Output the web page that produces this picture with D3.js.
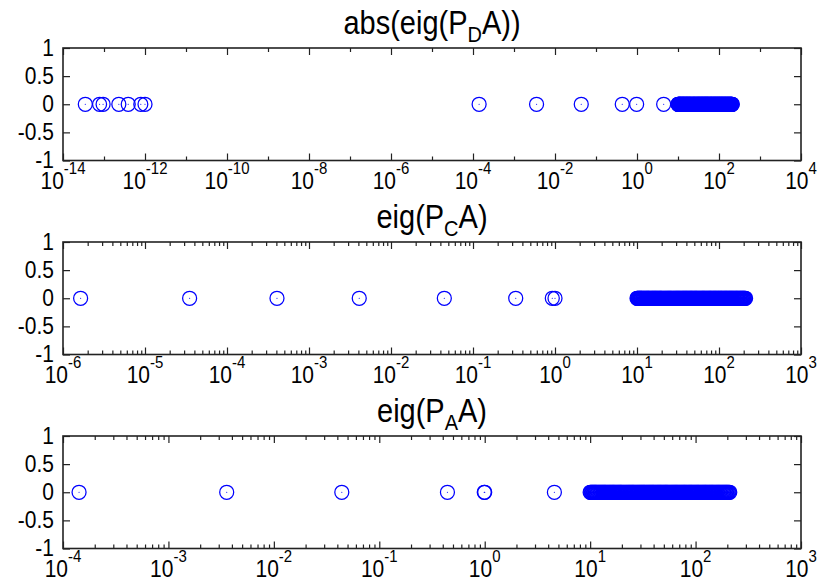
<!DOCTYPE html>
<html>
<head>
<meta charset="utf-8">
<script src="https://cdn.jsdelivr.net/npm/d3@7"></script>
<style>
  html, body { margin: 0; padding: 0; background: #fff; }
  svg { display: block; }
  text { font-family: "Liberation Sans", Arial, Helvetica, sans-serif; fill: #000; }
</style>
</head>
<body>
<svg id="chart" width="830" height="581"></svg>
<script>
// ---------------- data ----------------
// dense bulk of the spectrum (same in all three panels)
const bulk = [10.0, 10.15, 10.3, 10.45, 10.6, 10.75, 10.9, 11.05, 11.2, 11.35, 11.5,
  11.7, 11.9, 12.1, 12.3, 12.5, 12.7, 12.9, 13.1, 13.3, 13.5, 13.7, 13.9, 14.1,
  14.35, 14.6, 14.85, 15.1, 15.35, 15.6, 15.85, 16.1, 16.35, 16.6, 16.85, 17.1,
  17.4, 17.7, 18.0, 18.3, 18.6, 18.9, 19.2, 19.5, 19.8, 20.1,
  20.5, 20.9, 21.3, 21.7, 22.1, 22.5, 22.9, 23.3, 23.7, 24.1, 24.5, 24.9, 25.3, 25.7, 26.1,
  26.6, 27.1, 27.6, 28.1, 28.6, 29.1, 29.6, 30.1, 30.6, 31.1, 31.6, 32.1, 32.6, 33.1,
  33.7, 34.3, 34.9, 35.5, 36.1, 36.7, 37.3, 37.9, 38.5, 39.1, 39.7, 40.3,
  41.0, 41.7, 42.4, 43.1, 43.8, 44.5, 45.2, 45.9, 46.6, 47.3,
  48.1, 48.9, 49.7, 50.5, 51.3, 52.1, 52.9, 53.7, 54.5,
  55.5, 56.5, 57.5, 58.5, 59.5, 60.5, 61.5, 62.5, 63.5, 64.5, 65.5, 66.5, 67.5,
  68.7, 69.9, 71.1, 72.3, 73.5, 74.7, 75.9, 77.1, 78.3, 79.5, 80.7,
  82.1, 83.5, 84.9, 86.3, 87.7, 89.1, 90.5, 91.9, 93.3,
  94.9, 96.5, 98.1, 99.7, 101.3, 102.9, 104.5, 106.1, 107.7,
  109.6, 111.5, 113.4, 115.3, 117.2, 119.1, 121.0, 122.9, 124.8, 126.7,
  128.9, 131.1, 133.3, 135.5, 137.7, 139.9, 142.1, 144.3, 146.5,
  149.1, 151.7, 154.3, 156.9, 159.5, 162.1, 164.7, 167.3, 169.9,
  172.9, 175.9, 178.9, 181.9, 184.9, 187.9, 190.9, 193.9, 196.9, 199.9,
  203.5, 207.0, 211.0];
// small (outlying) eigenvalues per preconditioner
const smallPD = [3.5e-14, 7.8e-14, 9.5e-14, 2.3e-13, 3.9e-13, 7.9e-13, 1.0e-12, 1.41e-4, 3.55e-3, 0.0437, 0.437, 0.98, 4.47];
const smallPC = [1.64e-6, 3.5e-5, 4.07e-4, 4.1e-3, 0.0447, 0.332, 0.927, 1.0];
const smallPA = [1.42e-4, 3.57e-3, 0.0441, 0.443, 0.99, 1.0, 4.58];

const titleMain = ["abs(eig(P", "eig(P", "eig(P"];
const titleSub = ["D", "C", "A"];
const titleTail = ["A))", "A)", "A)"];
const xExpMin = [-14, -6, -4];
const xExpMax = [4, 3, 3];
const xLabelStep = [2, 1, 1];
const yTicks = [-1, -0.5, 0, 0.5, 1];
const yTickLabels = ["-1", "-0.5", "0", "0.5", "1"];

// ---------------- drawing ----------------
const svg = d3.select("#chart");
const L = 63, R = 801, PH = 112.5;
const tops = [48, 242, 436];
const series = [smallPD.concat(bulk), smallPC.concat(bulk), smallPA.concat(bulk)];
const axisColor = "#222";
const VS = 1.12; // vertical stretch of the (narrow) font

function stretchedText(parent, x, y, anchor, size) {
  return parent.append("g").attr("transform", `translate(${x},${y}) scale(1,${VS})`)
    .append("text").attr("text-anchor", anchor).style("font-size", size + "px");
}

for (let p = 0; p < 3; p++) {
  const top = tops[p], bot = top + PH;
  const x = d3.scaleLog().domain([Math.pow(10, xExpMin[p]), Math.pow(10, xExpMax[p])]).range([L, R]);
  const y = d3.scaleLinear().domain([-1, 1]).range([bot, top]);
  const g = svg.append("g");

  const majors = [], minors = [];
  for (let e = xExpMin[p]; e <= xExpMax[p]; e++) {
    if ((e - xExpMin[p]) % xLabelStep[p] === 0) majors.push(Math.pow(10, e));
    else minors.push(Math.pow(10, e));
    if (xLabelStep[p] === 1 && e < xExpMax[p]) {
      for (let k = 2; k <= 9; k++) minors.push(k * Math.pow(10, e));
    }
  }

  const tickStyle = sel => { sel.select(".domain").remove(); sel.selectAll("line").attr("stroke", axisColor).attr("stroke-width", 1.2); sel.selectAll("text").remove(); };
  g.append("g").attr("transform", `translate(0,${bot})`).call(d3.axisBottom(x).tickValues(majors).tickSize(-7).tickFormat("")).call(tickStyle);
  g.append("g").attr("transform", `translate(0,${bot})`).call(d3.axisBottom(x).tickValues(minors).tickSize(-4).tickFormat("")).call(tickStyle);
  g.append("g").attr("transform", `translate(0,${top})`).call(d3.axisTop(x).tickValues(majors).tickSize(-7).tickFormat("")).call(tickStyle);
  g.append("g").attr("transform", `translate(0,${top})`).call(d3.axisTop(x).tickValues(minors).tickSize(-4).tickFormat("")).call(tickStyle);
  g.append("g").attr("transform", `translate(${L},0)`).call(d3.axisLeft(y).tickValues(yTicks).tickSize(-7).tickFormat("")).call(tickStyle);
  g.append("g").attr("transform", `translate(${R},0)`).call(d3.axisRight(y).tickValues(yTicks).tickSize(-7).tickFormat("")).call(tickStyle);

  g.append("rect").attr("x", L).attr("y", top).attr("width", R - L).attr("height", PH)
    .attr("fill", "none").attr("stroke", axisColor).attr("stroke-width", 1.6);

  yTicks.forEach((v, i) => {
    stretchedText(g, 54, y(v) + 7.5, "end", 21).text(yTickLabels[i]);
  });

  majors.forEach(v => {
    const e = Math.round(Math.log10(v));
    const t = stretchedText(g, x(v), bot + 28.5, "middle", 21);
    t.append("tspan").text("10");
    t.append("tspan").attr("dy", -13).style("font-size", "15px").text(String(e));
  });

  const tt = stretchedText(g, (L + R) / 2, top - 14, "middle", 29);
  tt.append("tspan").text(titleMain[p]);
  tt.append("tspan").attr("dy", 7).style("font-size", "20px").text(titleSub[p]);
  tt.append("tspan").attr("dy", -7).text(titleTail[p]);

  const pts = g.append("g");
  pts.selectAll("circle.ring").data(series[p]).join("circle").attr("class", "ring")
    .attr("cx", d => x(d)).attr("cy", y(0)).attr("r", 7)
    .attr("fill", "none").attr("stroke", "#0000ff").attr("stroke-width", 1.25);
  pts.selectAll("circle.dot").data(series[p]).join("circle").attr("class", "dot")
    .attr("cx", d => x(d)).attr("cy", y(0)).attr("r", 0.6).attr("fill", "#0000ff");
}
</script>
</body>
</html>
